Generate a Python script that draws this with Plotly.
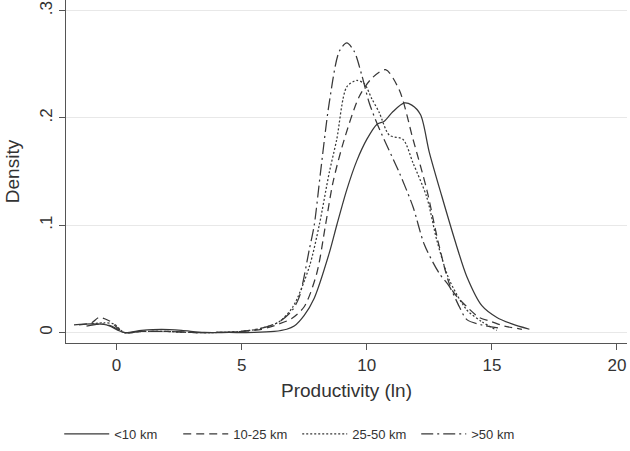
import plotly.graph_objects as go

# ---- data ----
x_lt10 = [-1.7, -1.0, -0.4, 0.3, 1.0, 1.8, 2.6, 3.5, 4.5, 5.5, 6.3, 6.8, 7.1, 7.5, 7.9, 8.5, 8.8, 9.2, 9.6, 10.0, 10.4, 10.7, 11.05, 11.5, 11.8, 12.15, 12.5, 13.0, 13.6, 14.0, 14.6, 15.2, 15.8, 16.5]
y_lt10 = [0.007, 0.008, 0.007, 0.000, 0.002, 0.003, 0.002, 0.000, 0.000, 0.000, 0.001, 0.003, 0.006, 0.016, 0.032, 0.074, 0.100, 0.133, 0.160, 0.180, 0.194, 0.197, 0.206, 0.214, 0.212, 0.203, 0.168, 0.127, 0.080, 0.052, 0.025, 0.014, 0.008, 0.003]

x_10_25 = [-1.5, -1.0, -0.7, -0.3, 0.3, 1.0, 2.0, 3.0, 4.0, 5.0, 5.8, 6.5, 7.0, 7.5, 8.0, 8.35, 8.65, 9.1, 9.7, 10.2, 10.75, 11.3, 11.85, 12.4, 12.9, 13.4, 14.0, 14.5, 15.0, 15.5, 16.2]
y_10_25 = [0.007, 0.009, 0.014, 0.011, 0.000, 0.001, 0.001, 0.000, 0.000, 0.001, 0.003, 0.008, 0.013, 0.024, 0.055, 0.100, 0.140, 0.180, 0.220, 0.237, 0.245, 0.226, 0.180, 0.133, 0.080, 0.040, 0.024, 0.014, 0.010, 0.006, 0.003]

x_25_50 = [-1.0, -0.5, -0.1, 0.3, 1.0, 2.0, 3.0, 4.0, 5.0, 5.8, 6.5, 7.05, 7.7, 8.1, 8.5, 8.8, 9.2, 9.6, 9.9, 10.2, 10.5, 10.9, 11.45, 11.85, 12.4, 12.8, 13.3, 14.0, 14.6, 15.2]
y_25_50 = [0.008, 0.009, 0.008, 0.000, 0.001, 0.001, 0.000, 0.000, 0.001, 0.004, 0.010, 0.024, 0.061, 0.100, 0.149, 0.180, 0.229, 0.235, 0.232, 0.218, 0.205, 0.184, 0.180, 0.158, 0.126, 0.086, 0.049, 0.021, 0.010, 0.002]

x_gt50 = [-1.2, -0.6, -0.2, 0.3, 1.0, 2.0, 3.0, 4.0, 5.0, 5.8, 6.5, 7.0, 7.3, 7.7, 7.9, 8.15, 8.5, 8.9, 9.2, 9.5, 9.8, 10.1, 10.5, 11.3, 11.85, 12.3, 12.9, 13.3, 13.7, 14.0, 14.6, 15.3]
y_gt50 = [0.006, 0.008, 0.006, 0.000, 0.001, 0.001, 0.000, 0.000, 0.001, 0.004, 0.010, 0.020, 0.033, 0.077, 0.100, 0.149, 0.214, 0.262, 0.270, 0.262, 0.240, 0.214, 0.190, 0.149, 0.117, 0.082, 0.055, 0.043, 0.024, 0.012, 0.007, 0.004]

labels = ["<10 km", "10-25 km", "25-50 km", ">50 km"]
x_ticks = [0, 5, 10, 15, 20]
y_ticks = [0, 0.1, 0.2, 0.3]
y_tick_text = ["0", ".1", ".2", ".3"]

series = [(x_lt10, y_lt10, "solid"),
          (x_10_25, y_10_25, "8px,5px"),
          (x_25_50, y_25_50, "2px,2px"),
          (x_gt50, y_gt50, "12px,4px,2px,4px")]

line_col = "#383838"
font_fam = "Arial, Liberation Sans, sans-serif"

fig = go.Figure()
for (xs, ys, dash), name in zip(series, labels):
    fig.add_trace(go.Scatter(x=xs, y=ys, mode="lines", name=name,
                             line=dict(color=line_col, width=1.25, dash=dash,
                                       shape="spline", smoothing=0.8)))

fig.update_layout(
    width=630, height=451,
    margin=dict(l=66, r=3, t=0, b=108, autoexpand=False),
    plot_bgcolor="white", paper_bgcolor="white",
    font=dict(family=font_fam, color="#333333"),
    showlegend=True,
    legend=dict(orientation="h", xref="container", yref="container",
                x=0.094, xanchor="left", y=0.038, yanchor="middle",
                font=dict(size=13, color="#333333"), itemwidth=45,
                entrywidth=59, entrywidthmode="pixels",
                bgcolor="rgba(0,0,0,0)"),
    xaxis=dict(range=[-2.02, 20.4], tickvals=x_ticks, showgrid=False, zeroline=False,
               automargin=False,
               showline=True, linecolor="#555555", linewidth=1.2,
               ticks="outside", ticklen=6, tickcolor="#555555",
               tickfont=dict(size=17, color="#333333"),
               title=dict(text="Productivity (ln)", font=dict(size=19, color="#333333"), standoff=10)),
    yaxis=dict(range=[-0.0098, 0.310], tickvals=y_ticks, ticktext=y_tick_text, tickangle=-90,
               automargin=False,
               showgrid=True, gridcolor="#e8e8e8", gridwidth=1, zeroline=False,
               showline=True, linecolor="#555555", linewidth=1.2,
               ticks="outside", ticklen=6, tickcolor="#555555",
               tickfont=dict(size=17, color="#333333"),
               title=dict(text="Density", font=dict(size=19, color="#333333"), standoff=12)),
)

fig.write_html("out.html",
               config={"displayModeBar": False},
               post_script="document.body.style.margin='0';document.body.style.overflow='hidden';")
